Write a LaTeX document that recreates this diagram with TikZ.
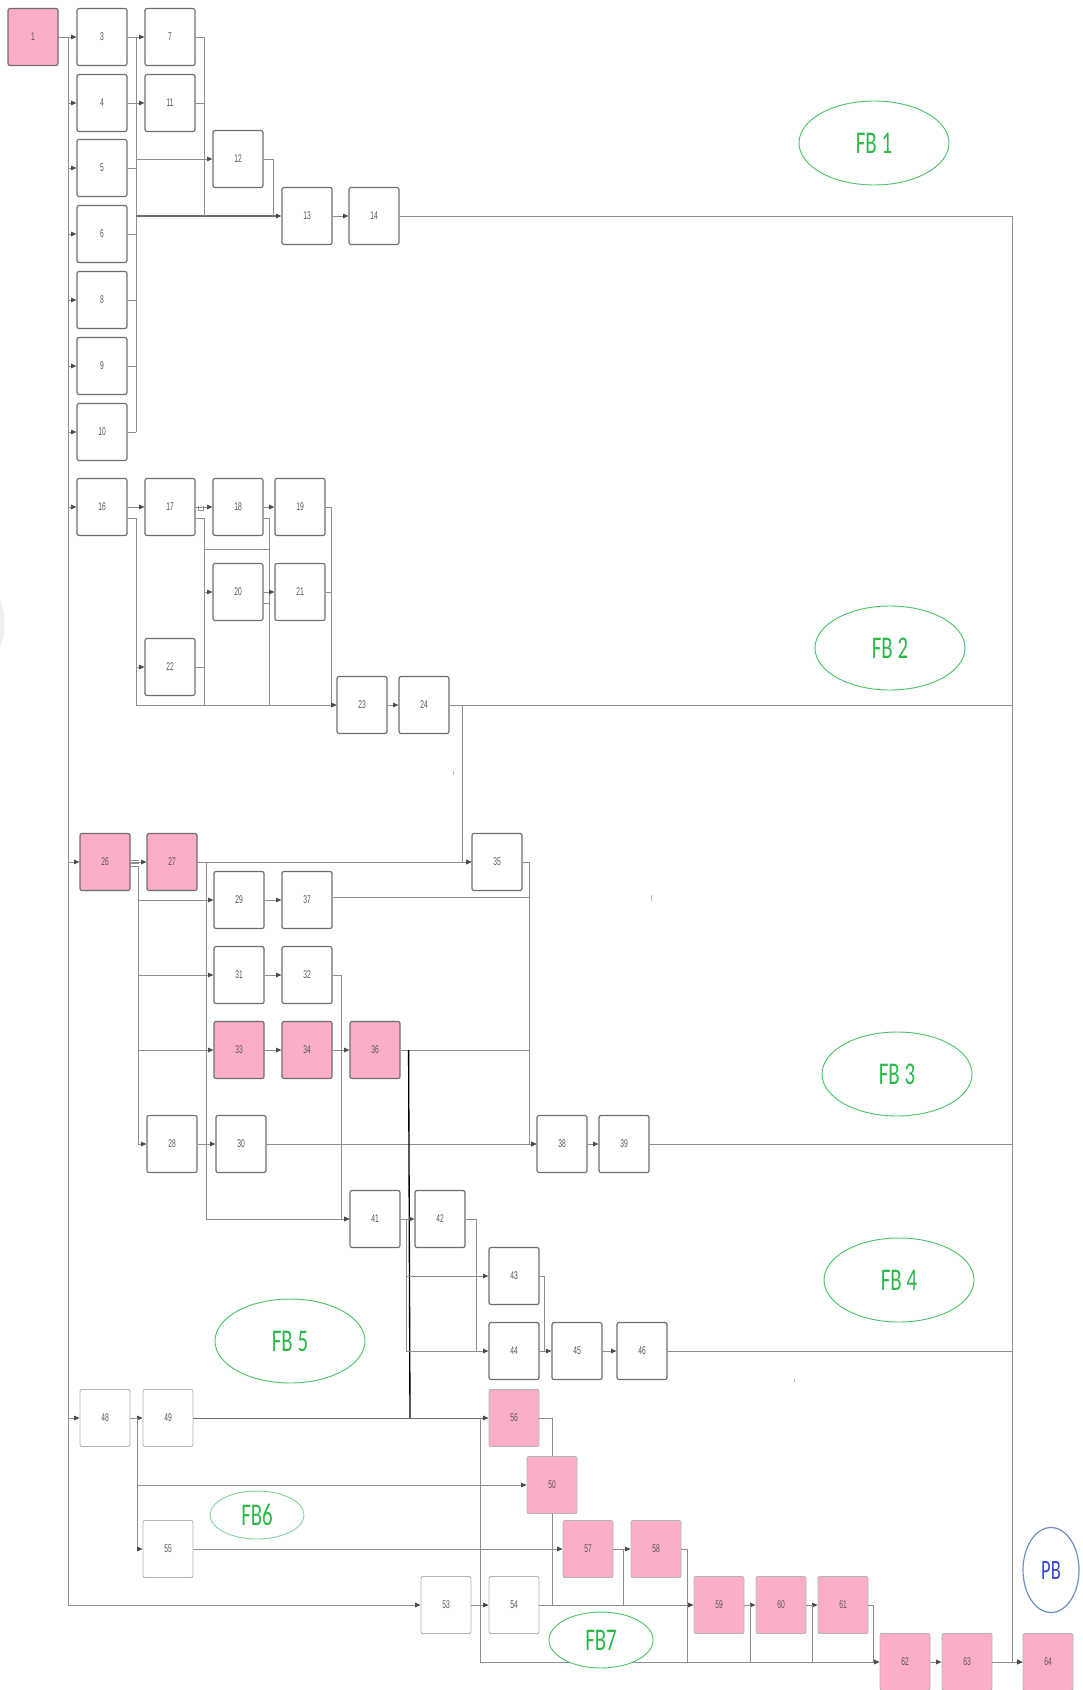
\documentclass[tikz,border=0pt]{standalone}
\usepackage{fontspec}
\usetikzlibrary{arrows.meta,shapes.geometric,calc}
\newfontfamily\boxfont[FakeStretch=0.6]{Liberation Sans}
\newfontfamily\fbfont[FakeStretch=0.66]{Carlito}
\definecolor{pinkc}{HTML}{FDAEC7}
\definecolor{boxgray}{HTML}{6E6E6E}
\definecolor{lightbox}{HTML}{B4B4B4}
\definecolor{linegray}{HTML}{8E8E8E}
\definecolor{arrowgray}{HTML}{4A4A4A}
\definecolor{txtgray}{HTML}{555555}
\definecolor{fbgreen}{HTML}{2DB84C}
\definecolor{fbedge}{HTML}{4CC46A}
\definecolor{pbblue}{HTML}{3C46D8}
\definecolor{pbedge}{HTML}{6F8FC4}
\tikzset{
  box/.style={rectangle, draw=boxgray, line width=0.9pt, rounded corners=1.5pt, fill=white,
    minimum width=37.5pt, minimum height=42.75pt, inner sep=0pt,
    font=\boxfont\fontsize{8.4}{9}\selectfont, text=txtgray},
  pbox/.style={box, fill=pinkc},
  lbox/.style={box, draw=lightbox, line width=0.7pt},
  lpbox/.style={pbox, draw=lightbox, line width=0.7pt},
  conn/.style={draw=linegray, line width=0.6pt},
  arr/.style={conn, -{Triangle[length=4pt,width=3.4pt,color=arrowgray]}},
  fb/.style={ellipse, draw=fbedge, line width=0.7pt, fill=white, inner sep=0pt,
    text=fbgreen, font=\fbfont\fontsize{23.7}{26}\selectfont,
    minimum width=112.5pt, minimum height=63pt},
}
\begin{document}
\begin{tikzpicture}[x=0.75pt,y=-0.75pt]
\useasboundingbox (0,0) rectangle (1082,1690);
% faint smudge at left edge
\fill[gray!12] (0,600) .. controls (6,615) and (6,632) .. (0,647) -- cycle;

% ---------- nodes ----------
\node[pbox] (n1) at (33,37) {1};
\node[box] (n3) at (102,37) {3};
\node[box] (n4) at (102,103) {4};
\node[box] (n5) at (102,168) {5};
\node[box] (n6) at (102,234) {6};
\node[box] (n8) at (102,300) {8};
\node[box] (n9) at (102,366) {9};
\node[box] (n10) at (102,432) {10};
\node[box] (n7) at (170,37) {7};
\node[box] (n11) at (170,103) {11};
\node[box] (n12) at (238,159) {12};
\node[box] (n13) at (307,216) {13};
\node[box] (n14) at (374,216) {14};

\node[box] (n16) at (102,507) {16};
\node[box] (n17) at (170,507) {17};
\node[box] (n18) at (238,507) {18};
\node[box] (n19) at (300,507) {19};
\node[box] (n20) at (238,592) {20};
\node[box] (n21) at (300,592) {21};
\node[box] (n22) at (170,667) {22};
\node[box] (n23) at (362,705) {23};
\node[box] (n24) at (424,705) {24};

\node[pbox] (n26) at (105,862) {26};
\node[pbox] (n27) at (172,862) {27};
\node[box] (n35) at (497,862) {35};
\node[box] (n29) at (239,900) {29};
\node[box] (n37) at (307,900) {37};
\node[box] (n31) at (239,975) {31};
\node[box] (n32) at (307,975) {32};
\node[pbox] (n33) at (239,1050) {33};
\node[pbox] (n34) at (307,1050) {34};
\node[pbox] (n36) at (375,1050) {36};
\node[box] (n28) at (172,1144) {28};
\node[box] (n30) at (241,1144) {30};
\node[box] (n38) at (562,1144) {38};
\node[box] (n39) at (624,1144) {39};

\node[box] (n41) at (375,1219) {41};
\node[box] (n42) at (440,1219) {42};
\node[box] (n43) at (514,1276) {43};
\node[box] (n44) at (514,1351) {44};
\node[box] (n45) at (577,1351) {45};
\node[box] (n46) at (642,1351) {46};

\node[lbox] (n48) at (105,1418) {48};
\node[lbox] (n49) at (168,1418) {49};
\node[lbox] (n55) at (168,1549) {55};
\node[lbox] (n53) at (446,1605) {53};
\node[lbox] (n54) at (514,1605) {54};
\node[lpbox] (n56) at (514,1418) {56};
\node[lpbox] (n50) at (552,1485) {50};
\node[lpbox] (n57) at (588,1549) {57};
\node[lpbox] (n58) at (656,1549) {58};
\node[lpbox] (n59) at (719,1605) {59};
\node[lpbox] (n60) at (781,1605) {60};
\node[lpbox] (n61) at (843,1605) {61};
\node[lpbox] (n62) at (905,1662) {62};
\node[lpbox] (n63) at (967,1662) {63};
\node[lpbox] (n64) at (1048,1662) {64};

% ---------- bus coordinates ----------
\coordinate (bA) at (68,0);
\coordinate (bB) at (136,0);
\coordinate (bC) at (204,0);
\coordinate (bD) at (273,0);
\coordinate (bE) at (269,0);
\coordinate (bF) at (331,0);
\coordinate (bG) at (462,0);
\coordinate (bH) at (138,0);
\coordinate (bI) at (206,0);
\coordinate (bJ) at (529,0);
\coordinate (bK) at (341,0);
\coordinate (bL) at (410,0);
\coordinate (bM) at (406,0);
\coordinate (bN) at (476,0);
\coordinate (bO) at (544,0);
\coordinate (bP) at (137,0);
\coordinate (bQ) at (480,0);
\coordinate (bT) at (623,0);
\coordinate (bU) at (687,0);
\coordinate (bV) at (750,0);
\coordinate (bX) at (812,0);
\coordinate (bW) at (873,0);
\coordinate (bR) at (1012,0);

% ---------- FB1 ----------
\draw[arr] (n1) -- (n3);
\draw[arr] (n1.east) -| (bA |- n53) -- (n53);
\foreach \n in {4,5,6,8,9,10,16,26,48} \draw[arr] (bA |- n\n) -- (n\n);
\draw[arr] (n3) -- (n7);
\draw[arr] (n4) -- (n11);
\draw[conn] (bB |- n3) -- (bB |- n10);
\foreach \n in {5,6,8,9,10} \draw[conn] (n\n.east) -- (bB |- n\n);
\draw[arr] (bB |- n12) -- (n12);
\draw[arr, draw=boxgray, line width=1pt] (bB |- n13) -- (n13);
\draw[conn] (n7.east) -| (bC |- n13);
\draw[conn] (n11.east) -- (bC |- n11);
\draw[conn] (n12.east) -| (bD |- n13);
\draw[arr] (n13) -- (n14);
\draw[arr] (n14.east) -| (bR |- n64) -- (n64);

% ---------- FB2 ----------
\draw[arr] (n16) -- (n17);
\draw[arr] ($(n16.east)+(0,11)$) -| (bB |- n23) -- (n23);
\draw[arr] (bB |- n22) -- (n22);
\draw[arr] (n17) -- (n18);
\draw[conn, line width=0.5pt] ($(n17.east)+(3,-1)$) -- ++(0,4) -- ++(5,0) -- ++(0,-4);
\draw[conn] ($(n17.east)+(0,11)$) -| (bC |- n23);
\draw[arr] (bC |- n20) -- (n20);
\draw[conn] ($(bC |- n18.south)+(0,13)$) -- ($(bE |- n18.south)+(0,13)$);
\draw[arr] (n18) -- (n19);
\draw[conn] ($(n18.east)+(0,11)$) -| (bE |- n23);
\draw[arr] (n20) -- (n21);
\draw[conn] ($(n20.east)+(0,11)$) -- ($(bE |- n20)+(0,11)$);
\draw[arr] (n19.east) -| (bF |- n23) -- (n23);
\draw[conn] (n21.east) -- (bF |- n21);
\draw[conn] (n22.east) -- (bC |- n22);
\draw[arr] (n23) -- (n24);
\draw[conn] (n24.east) -- (bR |- n24);
\draw[arr] (n24.east) -| (bG |- n35) -- (n35);

% ---------- FB3 ----------
\draw[arr] (n26) -- (n27);
\draw[conn, line width=0.4pt] ($(n26.east)+(0,-2)$) -- ++(8,0);
\draw[conn, line width=0.4pt] ($(n26.east)+(0,1)$) -- ++(8,0);
\draw[arr] ($(n26.east)+(0,4)$) -| (bH |- n28) -- (n28);
\foreach \n in {29,31,33} \draw[arr] (bH |- n\n) -- (n\n);
\draw[arr] (n27) -- (n35);
\draw[arr] (n27.east) -| (bI |- n41) -- (n41);
\draw[arr] (n29) -- (n37);
\draw[arr] (n31) -- (n32);
\draw[arr] (n33) -- (n34);
\draw[arr] (n34) -- (n36);
\draw[arr] (n28) -- (n30);
\draw[arr] (n35.east) -| (bJ |- n38) -- (n38);
\draw[conn] ($(n37.east)+(0,-3)$) -- ($(bJ |- n37)+(0,-3)$);
\draw[conn] (n36.east) -- (bJ |- n36);
\draw[arr] (n30) -- (n38);
\draw[arr] (n32.east) -| (bK |- n41) -- (n41);
\draw[arr] (n38) -- (n39);
\draw[conn] (n39.east) -- (bR |- n39);
\draw[black, line width=1pt] ($(n36.east)+(8,0)$) -- (bL |- n49);

% ---------- FB4 ----------
\draw[arr] (n41) -- (n42);
\draw[arr] (n41.east) -| (bM |- n44) -- (n44);
\draw[arr] (bM |- n43) -- (n43);
\draw[conn] (n42.east) -| (bN |- n44);
\draw[conn] (n43.east) -| (bO |- n45);
\draw[arr] (n44) -- (n45);
\draw[arr] (n45) -- (n46);
\draw[conn] (n46.east) -- (bR |- n46);

% ---------- FB5 - FB7 ----------
\draw[arr] (n48) -- (n49);
\draw[arr] (n48.east) -| (bP |- n55) -- (n55);
\draw[arr] (bP |- n50) -- (n50);
\draw[arr, draw=boxgray] (n49) -- (n56);
\draw[arr] (bQ |- n56) -- (bQ |- n62) -- (n62);
\draw[arr] (n55) -- (n57);
\draw[arr] (n53) -- (n54);
\draw[conn] (n56.east) -| (n50.north);
\draw[conn] (n50.south) -- (n50.south |- n54);
\draw[arr] (n54) -- (n59);
\draw[arr] (n57) -- (n58);
\draw[conn] (n57.east) -| (bT |- n59);
\draw[conn] (n58.east) -| (bU |- n62);
\draw[arr] (n59) -- (n60);
\draw[arr] (n60) -- (n61);
\draw[conn] (bV |- n59) -- (bV |- n62);
\draw[conn] (bX |- n59) -- (bX |- n62);
\draw[conn] (n61.east) -| (bW |- n62);
\draw[arr] (n62) -- (n63);
\draw[arr] (n63) -- (n64);

% stray marks
\draw[linegray!60, line width=0.6pt] (651,895) -- (651,901);
\draw[linegray!60, line width=0.6pt] (794,1379) -- (794,1382);
\draw[linegray!60, line width=0.6pt] (453,771) -- (453,775);

% ---------- labels ----------
\node[fb] (fb1) at (874,143) {FB 1};
\node[fb] (fb2) at (890,648) {FB 2};
\node[fb] (fb3) at (897,1074) {FB 3};
\node[fb] (fb4) at (899,1280) {FB 4};
\node[fb] (fb5) at (290,1341) {FB 5};
\node[fb, minimum width=70.5pt, minimum height=36pt, draw=fbedge!70] (fb6) at (257,1515) {FB6};
\node[fb, minimum width=78pt, minimum height=42pt] (fb7) at (601,1640) {FB7};
\node[fb, draw=pbedge, line width=0.9pt, text=pbblue, font=\fbfont\fontsize{21}{24}\selectfont,
  minimum width=42pt, minimum height=63.75pt] (pb) at (1051,1570) {PB};
\end{tikzpicture}
\end{document}
